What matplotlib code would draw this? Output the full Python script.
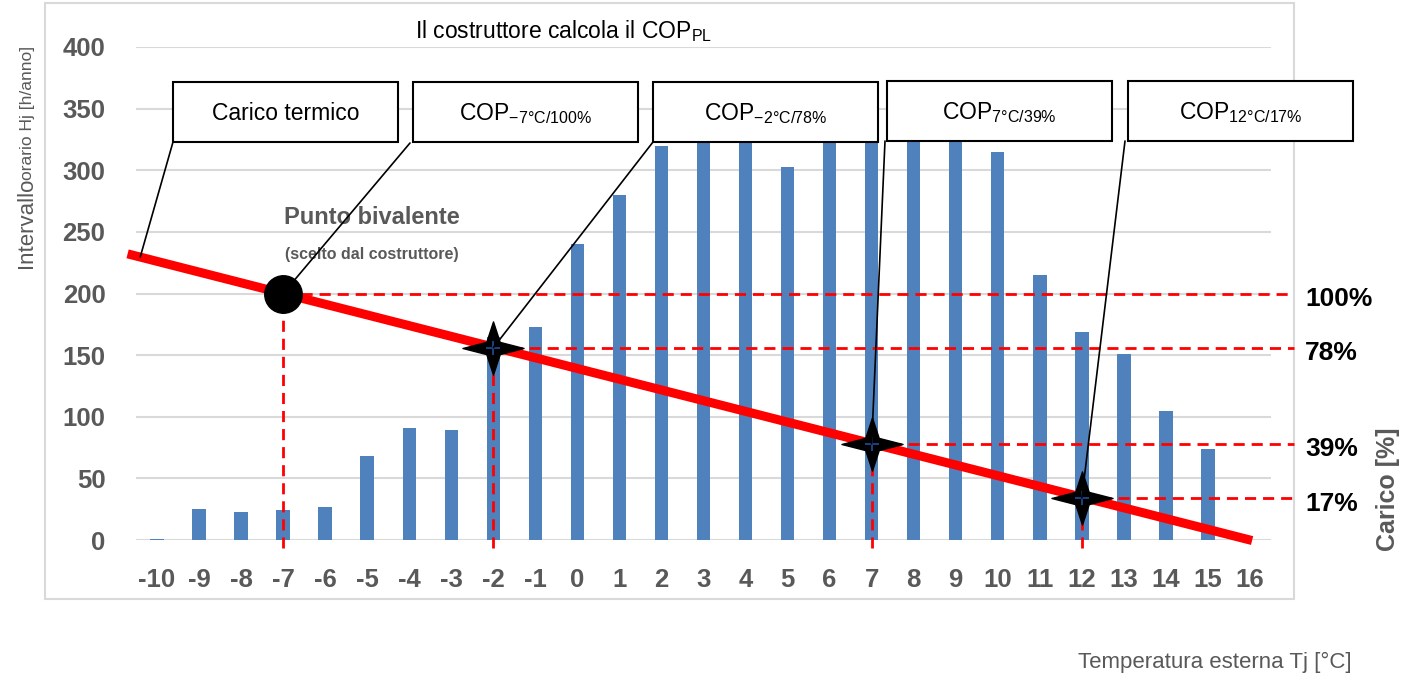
import numpy as np
import matplotlib
matplotlib.use("Agg")
import matplotlib.pyplot as plt
from matplotlib import font_manager
from matplotlib.path import Path
from matplotlib.patches import Rectangle, ConnectionPatch

# temperature bins Tj [°C] and hours per bin
tj = [-10, -9, -8, -7, -6, -5, -4, -3, -2, -1, 0, 1, 2,
      3, 4, 5, 6, 7, 8, 9, 10, 11, 12, 13, 14, 15]
hours = [1, 25, 23, 24, 27, 68, 91, 89, 165, 173, 240, 280, 320,
         357, 356, 303, 330, 326, 348, 335, 315, 215, 169, 151, 105, 74]
x_ticks = list(range(-10, 17))
y_ticks = list(range(0, 401, 50))

# heating load line: full load at the design point, zero at 16 °C
t_design = -7
t_zero = 16
load_full = 200
line_x = [-10.7, 16.05]

# part-load points declared by the manufacturer
cop_temps = [-2, 7, 12]
cop_loads = [78, 39, 17]
all_loads = [100, 78, 39, 17]

box_texts = ["Carico termico",
             r"COP$_{-7°C/100\%}$",
             r"COP$_{-2°C/78\%}$",
             r"COP$_{7°C/39\%}$",
             r"COP$_{12°C/17\%}$"]

W, H = 1405, 674
GRAY = "#595959"
BLUE = "#4f81bd"

names = {f.name for f in font_manager.fontManager.ttflist}
NARROW = "Liberation Sans Narrow" if "Liberation Sans Narrow" in names else "Liberation Sans"
plt.rcParams["font.family"] = ["Liberation Sans", "DejaVu Sans"]
plt.rcParams["mathtext.default"] = "regular"


def fx(px):
    return px / W


def fy(py):
    return 1 - py / H


def load(t):
    return load_full * (t_zero - np.asarray(t, dtype=float)) / (t_zero - t_design)


fig = plt.figure(figsize=(W / 100, H / 100), dpi=100)
ax = fig.add_axes([fx(136), fy(540), fx(1271) - fx(136), fy(47) - fy(540)])

ax.bar(tj, hours, width=0.32, color=BLUE, zorder=2)
ax.set_xlim(-10.5, 16.5)
ax.set_ylim(0, 400)
ax.set_xticks(x_ticks)
ax.set_xticklabels([str(t) for t in x_ticks])
ax.set_yticks(y_ticks)
ax.set_yticklabels([str(v) for v in y_ticks])
ax.tick_params(axis="both", length=0, labelcolor=GRAY)
ax.tick_params(axis="y", pad=22)
ax.tick_params(axis="x", pad=20)
for lab in ax.get_xticklabels() + ax.get_yticklabels():
    lab.set_fontfamily(NARROW)
    lab.set_fontweight("bold")
    lab.set_fontsize(18.5)
ax.yaxis.grid(True, color="#d9d9d9", lw=1.5)
ax.set_axisbelow(True)
for s in ax.spines.values():
    s.set_visible(False)

# right edge of the outer frame, in data units
fig.canvas.draw()
x_frame = ax.transData.inverted().transform((1294, 0))[0]

# dashed guides to the part-load levels
marker_t = [t_design] + cop_temps
for t, p in zip(marker_t, all_loads):
    yv = load_full * p / 100
    ax.plot([t, x_frame], [yv, yv], color="red", lw=2, ls=(0, (4, 2.5)),
            zorder=3, clip_on=False)
    ax.plot([t, t], [-6.5, yv], color="red", lw=2, ls=(0, (4, 2.5)),
            zorder=3, clip_on=False)

# load line
ax.plot(line_x, load(line_x), color="red", lw=6.5, zorder=4,
        solid_capstyle="butt", clip_on=False)

# bivalent point
ax.plot(t_design, load_full, "o", color="black", ms=27, zorder=6)

# four-point star marker
star = Path([(1, 0), (0.22, 0.2), (0, 0.87), (-0.22, 0.2), (-1, 0),
             (-0.22, -0.2), (0, -0.87), (0.22, -0.2), (1, 0)],
            [Path.MOVETO] + [Path.LINETO] * 7 + [Path.CLOSEPOLY])
cop_y = [load_full * p / 100 for p in cop_loads]
ax.plot(cop_temps, cop_y, ls="none", marker=star, ms=44, color="black",
        zorder=6, clip_on=False)
ax.plot(cop_temps, cop_y, ls="none", marker="+", ms=10, mew=1.2,
        color="#1f4e9a", zorder=7)

# outer frame
fig.add_artist(Rectangle((fx(45), fy(599)), fx(1294) - fx(45), fy(3) - fy(599),
                         transform=fig.transFigure, fill=False,
                         edgecolor="#d9d9d9", lw=1.5, zorder=0))

# callout boxes with leader lines
box_left = [173, 413, 653, 887, 1128]
box_top = [82, 82, 82, 81, 81]
box_w, box_h = 225, 60
leader_start = [(173, 142), (410, 143), (653, 142), (885, 141), (1125, 141)]
leader_end = [(-10.4, float(load(-10.4)))] + [(t_design, load_full)] + \
    list(zip(cop_temps, cop_y))
for txt, bl, bt, ls_, le in zip(box_texts, box_left, box_top,
                                leader_start, leader_end):
    fig.add_artist(Rectangle((fx(bl), fy(bt + box_h)), fx(box_w), box_h / H,
                             transform=fig.transFigure, facecolor="white",
                             edgecolor="black", lw=1.5, zorder=8))
    fig.text(fx(bl + box_w / 2), fy(bt + box_h / 2 + 2), txt, ha="center",
             va="center", fontsize=16.5, fontfamily=NARROW, color="black",
             zorder=9)
    con = ConnectionPatch(xyA=(fx(ls_[0]), fy(ls_[1])), coordsA=fig.transFigure,
                          xyB=le, coordsB=ax.transData, color="black", lw=1.2,
                          zorder=5)
    fig.add_artist(con)

# percentage labels on the right
for p in all_loads:
    ax.annotate(f"{p}%", xy=(fx(1305), load_full * p / 100),
                xycoords=(fig.transFigure, ax.transData),
                xytext=(0, -4), textcoords="offset points", ha="left",
                va="center", fontsize=19, fontweight="bold",
                fontfamily=NARROW, color="black")

fig.text(fx(1388), fy(489), "Carico [%]", rotation=90, ha="center",
         va="center", fontsize=18, fontweight="bold", fontfamily=NARROW,
         color=GRAY)

# annotations
fig.text(fx(372), fy(217), "Punto bivalente", ha="center", va="center",
         fontsize=17, fontweight="bold", color=GRAY)
fig.text(fx(372), fy(255), "(scelto dal costruttore)", ha="center",
         va="center", fontsize=11.5, fontweight="bold", color=GRAY)

fig.text(fx(415), fy(38), r"Il costruttore calcola il COP$_{PL}$", ha="left",
         va="baseline", fontsize=16.5, fontfamily=NARROW, color="black")

# axis titles
fig.text(fx(32), fy(268), "Intervallo", rotation=90, rotation_mode="anchor",
         ha="left", va="baseline", fontsize=16, fontfamily=NARROW, color=GRAY)
fig.text(fx(32), fy(180), "orario Hj [h/anno]", rotation=90,
         rotation_mode="anchor", ha="left", va="baseline", fontsize=12.5,
         fontfamily=NARROW, color=GRAY)
fig.text(fx(1352), fy(662), "Temperatura esterna Tj [°C]", ha="right",
         va="center", fontsize=16, fontfamily=NARROW, color=GRAY)

fig.savefig("out.png", dpi=100)
